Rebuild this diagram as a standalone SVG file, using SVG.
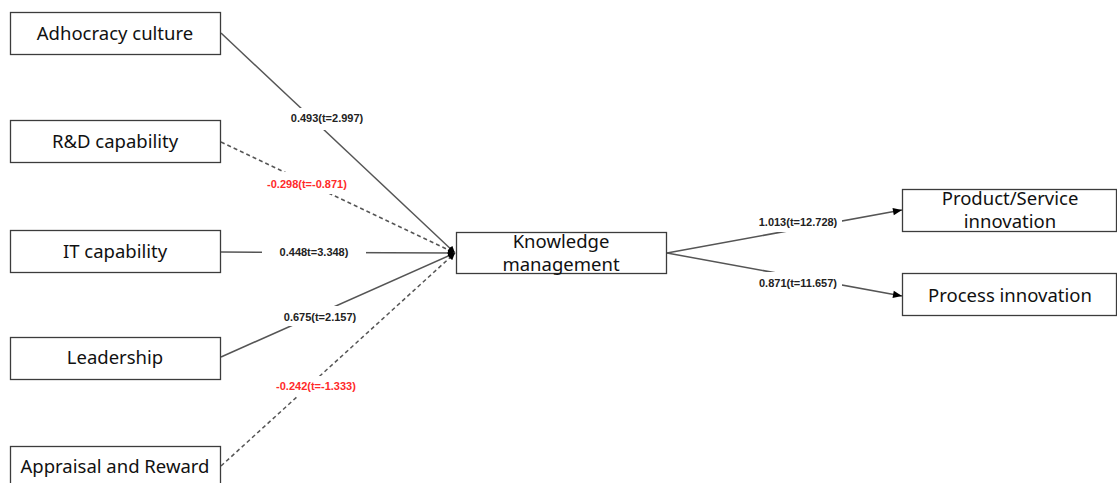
<svg xmlns="http://www.w3.org/2000/svg" width="1117" height="483" viewBox="0 0 1117 483">
<style>
.box{fill:#fff;stroke:#3c3c3c;stroke-width:1.3}
.t{font-family:"Noto Sans","Open Sans",sans-serif;font-size:18.5px;fill:#111;text-anchor:middle}
.ln{stroke:#555;stroke-width:1.5;fill:none}
.dash{stroke-dasharray:4,3}
.lb{font-family:"Liberation Sans",Arial,sans-serif;font-size:11px;font-weight:bold;fill:#222;text-anchor:middle}
.red{fill:#ff2a2a}
.bg{fill:#fff}
</style>
<defs>
<marker id="ah" viewBox="0 0 10 10" refX="10" refY="5" markerWidth="9" markerHeight="7" markerUnits="userSpaceOnUse" orient="auto">
<path d="M0,0 L10,5 L0,10 z" fill="#000"/>
</marker>
<marker id="ah2" viewBox="0 0 10 10" refX="10" refY="5" markerWidth="13" markerHeight="9" markerUnits="userSpaceOnUse" orient="auto">
<path d="M0,1 L10,5 L0,9 z" fill="#000"/>
</marker>
</defs>
<rect width="1117" height="483" fill="#fff"/>
<g id="connectors">
<line class="ln" x1="221" y1="33" x2="455" y2="253" marker-end="url(#ah)"/>
<line class="ln dash" x1="221" y1="142" x2="455" y2="253" marker-end="url(#ah)"/>
<line class="ln" x1="221" y1="252" x2="455" y2="253" marker-end="url(#ah)"/>
<line class="ln" x1="221" y1="357" x2="455" y2="253" marker-end="url(#ah)"/>
<line class="ln dash" x1="221" y1="466" x2="455" y2="253" marker-end="url(#ah)"/>
<line class="ln" x1="667" y1="253" x2="902" y2="210" marker-end="url(#ah2)"/>
<line class="ln" x1="667" y1="253" x2="902" y2="296" marker-end="url(#ah2)"/>
<rect class="bg" x="288" y="108" width="78" height="22"/>
<text class="lb" x="327" y="122">0.493(t=2.997)</text>
<rect class="bg" x="260" y="172" width="94" height="22"/>
<text class="lb red" x="307" y="188">-0.298(t=-0.871)</text>
<rect class="bg" x="262" y="244" width="104" height="16"/>
<text class="lb" x="314" y="256">0.448t=3.348)</text>
<rect class="bg" x="281" y="306" width="78" height="20"/>
<text class="lb" x="320" y="321">0.675(t=2.157)</text>
<rect class="bg" x="270" y="376" width="94" height="20"/>
<text class="lb red" x="316" y="390">-0.242(t=-1.333)</text>
<rect class="bg" x="753" y="212" width="89" height="20"/>
<text class="lb" x="798" y="226">1.013(t=12.728)</text>
<rect class="bg" x="753" y="272" width="89" height="20"/>
<text class="lb" x="798" y="287">0.871(t=11.657)</text>
</g>
<g id="adhocracy">
<rect class="box" x="10.5" y="12.5" width="210" height="42"/>
<text class="t" x="115" y="40">Adhocracy culture</text>
</g>
<g id="rnd">
<rect class="box" x="10.5" y="120.5" width="210" height="42"/>
<text class="t" x="115" y="148">R&amp;D capability</text>
</g>
<g id="it">
<rect class="box" x="10.5" y="230.5" width="210" height="42"/>
<text class="t" x="115" y="258">IT capability</text>
</g>
<g id="leadership">
<rect class="box" x="10.5" y="337.5" width="210" height="42"/>
<text class="t" x="115" y="364">Leadership</text>
</g>
<g id="appraisal">
<rect class="box" x="10.5" y="446.5" width="210" height="42"/>
<text class="t" x="115" y="473">Appraisal and Reward</text>
</g>
<g id="km">
<rect class="box" x="456.5" y="232.5" width="210" height="41"/>
<text class="t" x="561" y="248">Knowledge</text>
<text class="t" x="561" y="271">management</text>
</g>
<g id="product">
<rect class="box" x="902.5" y="189.5" width="214" height="42"/>
<text class="t" x="1010" y="205">Product/Service</text>
<text class="t" x="1010" y="228">innovation</text>
</g>
<g id="process">
<rect class="box" x="902.5" y="273.5" width="214" height="42"/>
<text class="t" x="1010" y="302">Process innovation</text>
</g>
</svg>
